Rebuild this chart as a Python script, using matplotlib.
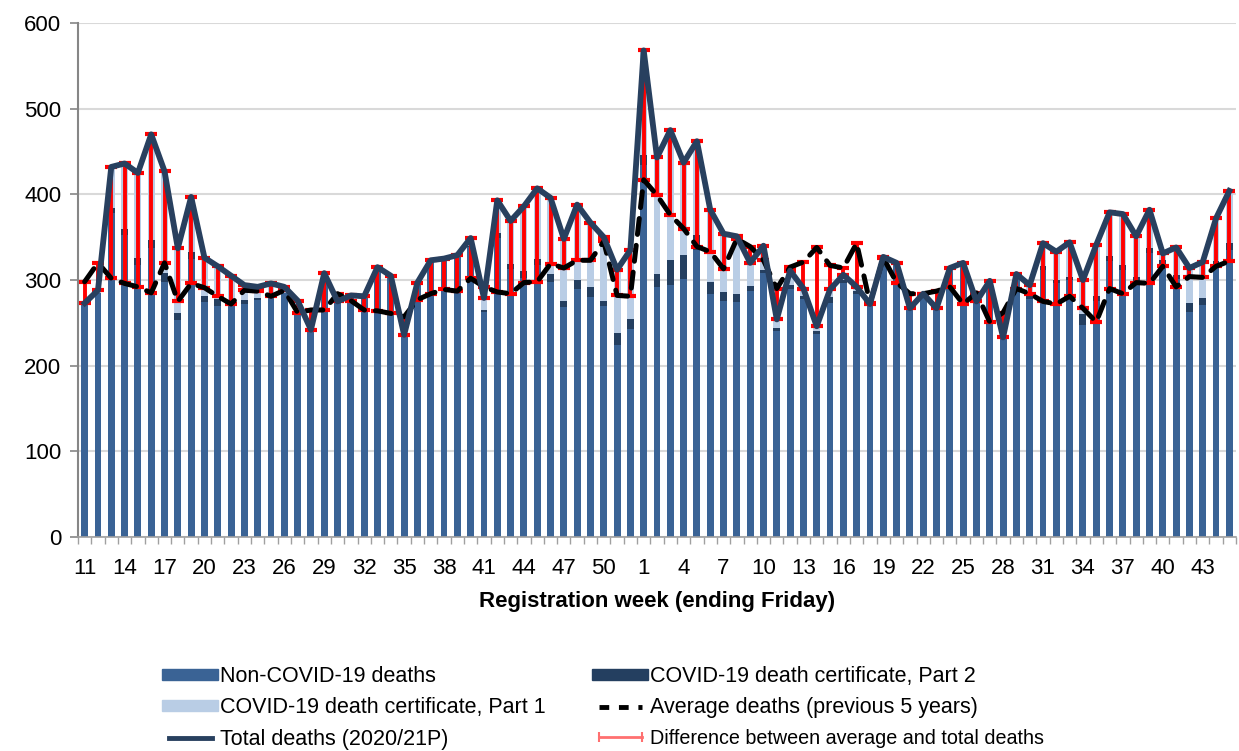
import numpy as np
import matplotlib
matplotlib.use("Agg")
import matplotlib.pyplot as plt
from matplotlib.lines import Line2D
from matplotlib.patches import Patch

plt.rcParams['font.family'] = ['Liberation Sans', 'DejaVu Sans']

# registration weeks: 2020 wk 11-52, 2021 wk 1-45
weeks = list(range(11, 53)) + list(range(1, 46))

total = [273, 288, 432, 436, 425, 470, 427, 337, 397, 326,
         316, 305, 294, 292, 296, 292, 276, 242, 308, 275,
         282, 281, 315, 305, 236, 297, 323, 325, 329, 349,
         279, 393, 369, 386, 407, 396, 348, 388, 367, 350,
         312, 335, 568, 443, 475, 437, 462, 382, 354, 351,
         320, 340, 254, 311, 290, 246, 289, 306, 292, 272,
         327, 320, 267, 284, 267, 314, 320, 275, 299, 233,
         307, 294, 343, 333, 344, 300, 341, 379, 377, 351,
         382, 331, 338, 314, 321, 372, 404]

average = [298, 320, 302, 296, 292, 285, 320, 275, 296, 291,
           281, 272, 288, 287, 281, 288, 262, 265, 265, 284,
           276, 265, 264, 261, 257, 277, 284, 289, 287, 302,
           292, 286, 284, 297, 298, 319, 314, 323, 323, 345,
           282, 281, 417, 399, 376, 360, 339, 333, 313, 348,
           339, 323, 290, 315, 321, 338, 317, 314, 343, 273,
           326, 297, 284, 284, 287, 292, 272, 285, 251, 262,
           290, 284, 275, 272, 281, 267, 251, 290, 284, 297,
           296, 316, 292, 304, 303, 316, 322]

covid_part2 = [0, 0, 6, 8, 8, 10, 10, 9, 8, 7,
               8, 3, 5, 2, 0, 0, 0, 0, 0, 0,
               0, 0, 0, 0, 0, 0, 0, 0, 0, 2,
               2, 6, 6, 8, 8, 9, 6, 10, 12, 5,
               14, 11, 12, 15, 29, 28, 17, 14, 10, 10,
               6, 4, 4, 5, 3, 3, 7, 4, 3, 0,
               0, 0, 0, 0, 0, 0, 0, 0, 0, 0,
               0, 3, 4, 4, 4, 13, 5, 6, 6, 5,
               6, 4, 5, 10, 8, 6, 8]

covid_part1 = [0, 3, 48, 76, 99, 123, 119, 75, 64, 45,
               38, 31, 17, 13, 12, 7, 7, 2, 3, 2,
               0, 0, 0, 0, 0, 0, 0, 0, 0, 9,
               14, 38, 50, 76, 82, 89, 73, 88, 75, 75,
               74, 81, 122, 136, 152, 108, 110, 84, 68, 67,
               27, 28, 10, 17, 9, 6, 9, 6, 5, 1,
               0, 3, 0, 0, 0, 0, 0, 0, 4, 0,
               2, 13, 27, 33, 40, 40, 60, 51, 59, 47,
               45, 8, 32, 41, 42, 50, 61]

non_covid = [t - a - b for t, a, b in zip(total, covid_part2, covid_part1)]

c_non = '#3a6395'
c_p2 = '#243f60'
c_p1 = '#b9cde5'
c_total = '#28405f'

fig = plt.figure(figsize=(12.39, 7.51), dpi=100)
ax = fig.add_axes([78 / 1239, 1 - 537 / 751, (1236 - 78) / 1239, (537 - 23) / 751])

x = np.arange(len(weeks))
bw = 0.52
ax.bar(x, non_covid, bw, color=c_non, zorder=2)
ax.bar(x, covid_part2, bw, bottom=non_covid, color=c_p2, zorder=2)
ax.bar(x, covid_part1, bw, bottom=np.array(non_covid) + np.array(covid_part2),
       color=c_p1, zorder=2)

tot = np.array(total)
avg = np.array(average)
lo = np.clip(avg - tot, 0, None)
hi = np.clip(tot - avg, 0, None)
ax.errorbar(x, avg, yerr=[lo, hi], fmt='none', ecolor='#ff0000',
            elinewidth=2.8, capsize=4, capthick=3, zorder=3)

ax.plot(x, average, color='black', lw=3.6, dashes=(3.2, 2.2),
        dash_capstyle='round', zorder=4)
ax.plot(x, total, color=c_total, lw=4.2, solid_joinstyle='round', zorder=5)

ax.set_xlim(-0.5, len(weeks) - 0.5)
ax.set_ylim(0, 600)
ax.set_yticks(range(0, 601, 100))
ax.yaxis.grid(True, color='#d9d9d9', lw=1.5, zorder=0)
ax.set_axisbelow(True)

ax.set_xticks(x[::3])
ax.set_xticklabels([str(w) for w in weeks[::3]])
ax.set_xticks(np.arange(-0.5, len(weeks)), minor=True)
ax.tick_params(axis='x', which='major', length=0, pad=15, labelsize=16)
ax.tick_params(axis='x', which='minor', length=5, width=1, color='#a0a0a0')
ax.tick_params(axis='y', length=6, width=1.2, color='#868686', labelsize=16, pad=6)

for s in ['top', 'right']:
    ax.spines[s].set_visible(False)
ax.spines['left'].set_color('#868686')
ax.spines['left'].set_linewidth(1.5)
ax.spines['bottom'].set_color('#a0a0a0')
ax.spines['bottom'].set_linewidth(1.2)

ax.set_xlabel('Registration week (ending Friday)', fontsize=16, fontweight='bold', labelpad=9)

handles = [
    Patch(color=c_non, label='Non-COVID-19 deaths'),
    Patch(color=c_p1, label='COVID-19 death certificate, Part 1'),
    Line2D([0], [0], color=c_total, lw=3.5, label='Total deaths (2020/21P)'),
    Patch(color=c_p2, label='COVID-19 death certificate, Part 2'),
    Line2D([0], [0], color='black', lw=3.5, dashes=(2, 2), label='Average deaths (previous 5 years)'),
    Line2D([0], [0], color='#ff7070', lw=2, marker='|', markersize=7, mew=1.5,
           label='Difference between average and total deaths'),
]
leg = fig.legend(handles=handles, loc='center', bbox_to_anchor=(0.487, 0.0575), ncol=2,
                 frameon=False, fontsize=15.5, handlelength=2.6, handleheight=0.4,
                 numpoints=2, columnspacing=2.15, labelspacing=0.48, handletextpad=0.1)
leg.get_texts()[5].set_fontsize(14.2)

fig.savefig('out.png', dpi=100)
